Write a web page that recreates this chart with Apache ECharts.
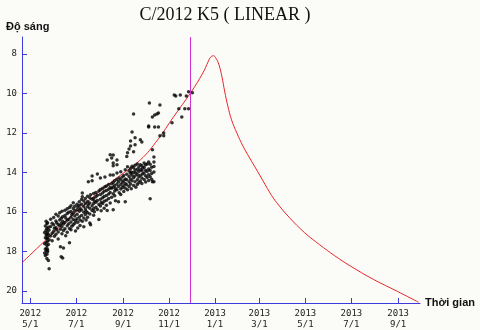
<!DOCTYPE html>
<html>
<head>
<meta charset="utf-8">
<script src="https://cdn.jsdelivr.net/npm/echarts@6/dist/echarts.min.js"></script>
<style>
  html, body { margin: 0; padding: 0; background: #fbfcf8; }
  #chart { width: 480px; height: 330px; }
</style>
</head>
<body>
<div id="chart"></div>
<script>
// Light curve of comet C/2012 K5 (LINEAR): predicted magnitude and observations.

const titleText = 'C/2012 K5 ( LINEAR )';
const yName = 'Độ sáng';
const xName = 'Thời gian';

// Date axis ticks (first day of every second month)
const xTickDates = ['2012-05-01', '2012-07-01', '2012-09-01', '2012-11-01',
  '2013-01-01', '2013-03-01', '2013-05-01', '2013-07-01', '2013-09-01'];
const yTicks = [8, 10, 12, 14, 16, 18, 20];

// Axis extents
const xMin = '2012-04-20';
const xMax = '2013-09-30';
const yMin = 7.14;
const yMax = 20.62;

// Vertical marker date
const markerDate = '2012-11-29';

// Predicted magnitude curve
const curveDates = ['2012-04-20', '2012-05-19', '2012-06-16', '2012-07-16', '2012-08-15',
  '2012-09-24', '2012-10-17', '2012-11-07', '2012-11-30', '2012-12-16', '2012-12-23',
  '2012-12-26', '2012-12-30', '2013-01-02', '2013-01-06', '2013-01-10', '2013-01-14',
  '2013-01-18', '2013-01-23', '2013-01-30', '2013-02-07', '2013-02-16', '2013-03-02',
  '2013-03-15', '2013-03-24', '2013-04-10', '2013-04-30', '2013-05-20', '2013-06-09',
  '2013-06-29', '2013-07-30', '2013-08-31', '2013-09-28'];
const curveMags = [18.58, 17.52, 16.51, 15.49, 14.53,
  13.37, 12.35, 11.19, 9.95, 8.96, 8.39,
  8.17, 8.09, 8.20, 8.51, 9.11, 9.92,
  10.63, 11.34, 12.00, 12.66, 13.27, 14.18,
  15.04, 15.54, 16.30, 17.06, 17.67, 18.23,
  18.73, 19.42, 20.03, 20.58];

// Observed magnitudes, grouped by observation date
const obsDates = ['2012-05-20', '2012-05-21', '2012-05-22', '2012-05-23', '2012-05-24',
  '2012-05-25', '2012-05-26', '2012-05-28', '2012-05-30', '2012-06-01', '2012-06-02',
  '2012-06-04', '2012-06-05', '2012-06-07', '2012-06-09', '2012-06-10', '2012-06-11',
  '2012-06-12', '2012-06-13', '2012-06-14', '2012-06-16', '2012-06-17', '2012-06-19',
  '2012-06-21', '2012-06-22', '2012-06-24', '2012-06-25', '2012-06-27', '2012-06-29',
  '2012-06-30', '2012-07-02', '2012-07-03', '2012-07-05', '2012-07-06', '2012-07-08',
  '2012-07-09', '2012-07-11', '2012-07-13', '2012-07-14', '2012-07-16', '2012-07-17',
  '2012-07-19', '2012-07-20', '2012-07-22', '2012-07-24', '2012-07-25', '2012-07-27',
  '2012-07-29', '2012-07-31', '2012-08-02', '2012-08-03', '2012-08-05', '2012-08-07',
  '2012-08-08', '2012-08-10', '2012-08-11', '2012-08-13', '2012-08-15', '2012-08-17',
  '2012-08-19', '2012-08-21', '2012-08-22', '2012-08-24', '2012-08-26', '2012-08-27',
  '2012-08-29', '2012-08-31', '2012-09-02', '2012-09-04', '2012-09-06', '2012-09-07',
  '2012-09-09', '2012-09-11', '2012-09-12', '2012-09-13', '2012-09-15', '2012-09-17',
  '2012-09-18', '2012-09-20', '2012-09-22', '2012-09-24', '2012-09-26', '2012-09-27',
  '2012-09-29', '2012-10-01', '2012-10-03', '2012-10-05', '2012-10-06', '2012-10-07',
  '2012-10-09', '2012-10-10', '2012-10-12', '2012-10-13', '2012-10-16', '2012-10-18',
  '2012-10-20', '2012-10-25', '2012-11-05', '2012-11-08', '2012-11-10', '2012-11-14',
  '2012-11-16', '2012-11-18', '2012-11-22', '2012-11-24', '2012-11-27', '2012-12-02'];
const obsMags = [
  [17.05, 17.62, 18.08],
  [16.72, 17.31, 17.88, 18.21],
  [16.48, 16.93, 17.18, 17.55, 17.97],
  [16.61, 16.85, 17.12, 17.36, 17.71, 17.84, 18.15, 18.36],
  [16.55, 17.02, 17.27, 17.49, 17.93, 18.02],
  [16.78, 17.15, 17.66, 18.47],
  [16.92, 17.41, 18.88],
  [16.37, 16.74, 17.22],
  [16.58, 17.08, 17.46],
  [16.29, 16.66, 16.98],
  [16.83, 17.24],
  [16.12, 16.47, 16.79, 17.13],
  [16.55, 16.90],
  [16.21, 16.64, 17.02, 17.38],
  [16.05, 16.42, 16.71],
  [16.88, 17.77],
  [16.33, 16.59, 18.27],
  [15.97, 16.76, 17.11],
  [16.25, 16.48, 18.34],
  [16.62, 16.95, 17.83],
  [15.92, 16.18, 16.54, 16.86],
  [16.31, 17.21],
  [15.85, 16.09, 16.43, 16.70, 17.04],
  [16.02, 16.37, 16.61],
  [15.78, 16.84, 17.57],
  [15.69, 15.98, 16.27, 16.52, 16.91],
  [16.14, 16.73],
  [15.54, 15.83, 16.06, 16.39, 16.66],
  [15.72, 15.95, 16.21, 16.58],
  [16.44, 16.97],
  [15.61, 15.89, 16.12, 16.35],
  [15.76, 16.53, 16.82],
  [15.49, 15.68, 15.97, 16.26],
  [15.84, 16.41, 16.69],
  [15.38, 15.62, 15.91, 16.18],
  [15.04, 15.24, 16.48],
  [15.45, 15.73, 16.02, 16.31, 16.75],
  [15.33, 15.58, 15.86, 16.14],
  [15.97, 16.42],
  [15.21, 15.47, 15.74, 16.05, 16.28],
  [14.48, 15.63],
  [15.28, 15.55, 15.82, 16.11, 16.57],
  [15.14, 16.66],
  [14.18, 14.43, 15.36, 15.69, 15.93],
  [15.07, 15.31, 15.58, 15.84, 16.17],
  [15.45, 15.99],
  [15.02, 15.24, 15.51, 15.77],
  [14.08, 15.16, 15.42, 15.88],
  [14.94, 15.63, 16.39],
  [14.28, 14.87, 15.12, 15.36, 15.71],
  [15.53, 15.94],
  [14.81, 15.05, 15.29, 15.58],
  [14.96, 15.22, 15.46, 15.82],
  [14.23, 14.73],
  [14.69, 14.92, 15.17, 15.41, 15.67],
  [13.37, 15.93],
  [14.62, 14.85, 15.09, 15.33],
  [13.11, 14.13, 14.77, 15.02, 15.55],
  [13.27, 14.58, 14.81, 15.26],
  [13.12, 13.52, 13.67, 14.13, 14.51, 14.74, 15.08, 15.90],
  [14.43, 14.66, 14.94, 15.19],
  [14.82, 15.44],
  [13.37, 13.62, 14.03, 14.36, 14.59, 14.88],
  [14.47, 14.71, 15.49],
  [14.29, 15.03],
  [13.97, 14.38, 14.62, 14.84, 15.12],
  [14.24, 14.51, 14.77],
  [14.16, 14.42, 14.68, 14.97],
  [13.87, 14.33, 14.56, 14.81, 15.49],
  [13.20, 14.09, 14.37, 14.63],
  [13.00, 13.72, 14.88],
  [12.81, 13.93, 14.21, 14.47, 14.72],
  [12.41, 12.66, 13.81, 14.05, 14.34, 14.59],
  [13.98, 14.83],
  [11.95, 13.69, 14.14, 14.42],
  [11.04, 12.96, 13.76, 14.01, 14.27, 14.66],
  [12.25, 12.60, 13.64, 13.88, 14.19, 14.48],
  [14.02, 14.75],
  [13.58, 13.84, 14.11, 14.38, 14.62],
  [13.73, 13.96, 14.24, 14.53],
  [12.35, 13.61, 13.87, 14.15, 14.44],
  [12.46, 13.66, 13.92, 14.29, 14.57],
  [13.79, 14.08],
  [13.52, 13.74, 14.03, 14.36],
  [13.62, 13.89, 14.17, 14.49],
  [13.57, 13.95, 14.26],
  [11.65, 11.70, 13.48, 13.83, 14.12, 14.41],
  [10.48],
  [13.59, 13.91, 14.22, 15.34],
  [13.74, 14.06, 14.35],
  [11.19, 12.86, 14.48],
  [13.22, 13.47, 13.70, 13.98, 14.48],
  [11.09, 11.70],
  [11.04],
  [10.99, 11.70],
  [10.58, 12.15],
  [12.00, 12.15],
  [11.49],
  [10.08],
  [10.13],
  [10.78],
  [10.08],
  [11.19],
  [10.78],
  [10.13],
  [9.92, 10.78],
  [9.97]
];

const axisBlue = '#3c3cdc';
const labelFont = 'DejaVu Sans Mono';

// Dates become timestamps on a numeric axis so the ticks can sit on exact days.
const ts = d => +echarts.time.parse(d);

const curveData = curveDates.map((d, i) => [ts(d), curveMags[i]]);
const obsData = [];
obsDates.forEach((d, i) => obsMags[i].forEach(m => obsData.push([ts(d), m])));

const xTickValues = xTickDates.map(ts);

const chart = echarts.init(document.getElementById('chart'), null, { renderer: 'canvas' });

chart.setOption({
  backgroundColor: '#fbfcf8',
  animation: false,
  title: {
    text: titleText,
    left: 220,
    top: 1,
    textAlign: 'center',
    textStyle: { fontFamily: 'Liberation Serif', fontSize: 18, fontWeight: 'normal', color: '#111' }
  },
  graphic: [{
    type: 'text',
    left: 6,
    top: 21,
    style: { text: yName, font: 'bold 11px "Liberation Sans"', fill: '#111' }
  }],
  grid: { left: 22, right: 60, top: 37, bottom: 27, containLabel: false },
  xAxis: {
    type: 'value',
    min: ts(xMin),
    max: ts(xMax),
    name: xName,
    nameLocation: 'end',
    nameGap: 5,
    nameTextStyle: { fontFamily: 'Liberation Sans', fontWeight: 'bold', fontSize: 11, color: '#111', verticalAlign: 'middle' },
    axisLine: { show: true, lineStyle: { color: axisBlue, width: 1 } },
    axisTick: { show: true, inside: true, length: 5, customValues: xTickValues, lineStyle: { color: axisBlue } },
    axisLabel: {
      customValues: xTickValues,
      margin: 5,
      fontFamily: labelFont,
      fontSize: 9,
      lineHeight: 11,
      color: '#222',
      formatter: function (val) {
        const d = new Date(val);
        return d.getFullYear() + '\n' + (d.getMonth() + 1) + '/' + d.getDate();
      }
    },
    splitLine: { show: false }
  },
  yAxis: {
    type: 'value',
    inverse: true,
    min: yMin,
    max: yMax,
    axisLine: { show: true, lineStyle: { color: axisBlue, width: 1 } },
    axisTick: { show: true, inside: true, length: 5, customValues: yTicks, lineStyle: { color: axisBlue } },
    axisLabel: { customValues: yTicks, margin: 5, fontFamily: labelFont, fontSize: 9, color: '#222' },
    splitLine: { show: false }
  },
  series: [
    {
      name: 'predicted',
      type: 'line',
      data: curveData,
      smooth: 0.4,
      showSymbol: false,
      symbol: 'none',
      lineStyle: { color: '#e8262a', width: 1 },
      z: 2
    },
    {
      name: 'observed',
      type: 'scatter',
      data: obsData,
      symbol: 'circle',
      symbolSize: 3.5,
      itemStyle: { color: '#000' },
      z: 3,
      markLine: {
        silent: true,
        symbol: ['none', 'none'],
        label: { show: false },
        lineStyle: { color: '#d030d0', width: 1, type: 'solid' },
        data: [{ xAxis: ts(markerDate) }]
      }
    }
  ]
});
</script>
</body>
</html>
